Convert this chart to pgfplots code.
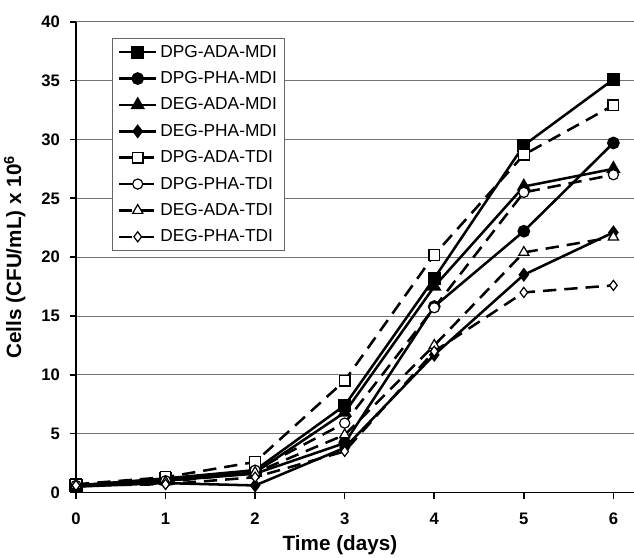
\documentclass[border=0pt]{standalone}
\usepackage{fontspec}
\setmainfont{Liberation Sans}
\usepackage{pgfplots}
\usepackage{pgfplotstable}
\pgfplotsset{compat=1.18}

% Zellzahlen, Spalten: Tag und acht Systeme
\pgfplotstableread{
day  dpgadamdi dpgphamdi degadamdi degphamdi dpgadatdi dpgphatdi degadatdi degphatdi
0    0.6       0.5       0.6       0.5       0.7       0.6       0.6       0.6
1    1.2       1.0       1.1       0.8       1.3       1.0       0.9       0.7
2    1.9       1.6       1.7       0.6       2.6       1.9       1.7       1.3
3    7.4       4.2       6.8       3.8       9.5       5.9       4.9       3.5
4    18.2      15.8      17.5      11.7      20.2      15.7      12.5      12.0
5    29.5      22.2      26.0      18.5      28.7      25.5      20.4      17.0
6    35.1      29.7      27.5      22.1      32.9      27.0      21.7      17.6
}\cells

\pgfplotsset{
  mdi/.style={black, line width=1.9pt, solid, mark options={solid, fill=black}},
  tdi/.style={black, line width=1.9pt, dash pattern=on 10pt off 6pt, mark options={solid, fill=white, line width=0.9pt}},
}

\begin{document}
\begin{tikzpicture}
\begin{axis}[
  scale only axis,
  width=418.5pt, height=353.1pt,
  xmin=0, xmax=6.23,
  ymin=0, ymax=40,
  xtick={0,1,2,3,4,5,6},
  ytick={0,5,10,15,20,25,30,35,40},
  axis x line=bottom, axis y line=left,
  axis line style={-, black, line width=1.4pt},
  tick align=outside,
  major tick length=4.5pt,
  tick style={black, line width=1.2pt},
  ymajorgrids,
  major grid style={black!55, line width=0.7pt},
  /pgf/number format/assume math mode=true,
  tick label style={font=\fontsize{12.5}{14}\selectfont\bfseries},
  xticklabel style={yshift=-7pt},
  yticklabel style={xshift=-4pt},
  xlabel={\bfseries Time (days)},
  ylabel={\bfseries Cells (CFU/mL) x 10\textsuperscript{6}},
  xlabel style={font=\fontsize{15.5}{17}\selectfont, at={(axis description cs:0.473,0)}, anchor=center, yshift=-39.4pt},
  ylabel style={font=\fontsize{15.5}{17}\selectfont, at={(axis description cs:0,0.5)}, anchor=center, yshift=46pt},
  clip=false,
  legend cell align=left,
  legend style={at={(0.0645,0.9654)}, anchor=north west, draw=black!60, line width=0.7pt,
    font=\fontsize{13}{15}\selectfont, row sep=5.2pt, inner xsep=4pt, inner ysep=3pt},
  legend image code/.code={\draw[mark repeat=2, mark phase=2, #1] plot coordinates {(0pt,0pt) (14pt,0pt) (28pt,0pt)};},
]
\addplot[mdi, mark=square*, mark size=4pt] table[x=day, y=dpgadamdi] {\cells};
\addlegendentry{DPG-ADA-MDI}
\addplot[mdi, mark=*, mark size=3.8pt] table[x=day, y=dpgphamdi] {\cells};
\addlegendentry{DPG-PHA-MDI}
\addplot[mdi, mark=triangle*, mark size=4.4pt] table[x=day, y=degadamdi] {\cells};
\addlegendentry{DEG-ADA-MDI}
\addplot[mdi, mark=diamond*, mark size=3.8pt] table[x=day, y=degphamdi] {\cells};
\addlegendentry{DEG-PHA-MDI}
\addplot[tdi, mark=square*, mark size=4pt] table[x=day, y=dpgadatdi] {\cells};
\addlegendentry{DPG-ADA-TDI}
\addplot[tdi, mark=*, mark size=3.8pt] table[x=day, y=dpgphatdi] {\cells};
\addlegendentry{DPG-PHA-TDI}
\addplot[tdi, mark=triangle*, mark size=4.4pt] table[x=day, y=degadatdi] {\cells};
\addlegendentry{DEG-ADA-TDI}
\addplot[tdi, mark=diamond*, mark size=3.8pt] table[x=day, y=degphatdi] {\cells};
\addlegendentry{DEG-PHA-TDI}
\end{axis}
\pgfresetboundingbox
\useasboundingbox ([xshift=-57pt, yshift=-49.1pt]current axis.south west) rectangle ([yshift=16.3pt]current axis.north east);
\end{tikzpicture}
\end{document}
